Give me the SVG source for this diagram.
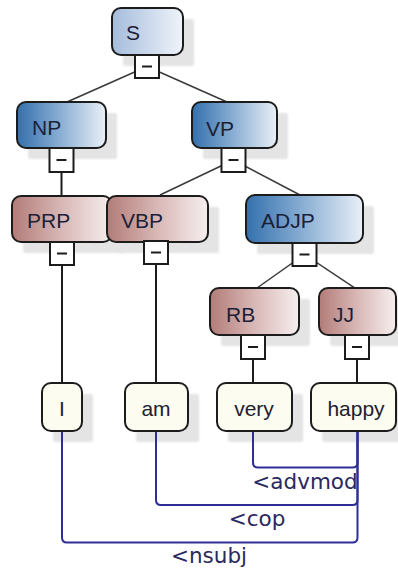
<svg xmlns="http://www.w3.org/2000/svg" width="398" height="568" viewBox="0 0 398 568">
  <defs>
    <linearGradient id="gPhrase" x1="0" y1="0" x2="1" y2="0">
      <stop offset="0" stop-color="#3470ad"/>
      <stop offset="0.5" stop-color="#8cb0d4"/>
      <stop offset="1" stop-color="#eaf0f7"/>
    </linearGradient>
    <linearGradient id="gRoot" x1="0" y1="0" x2="1" y2="0">
      <stop offset="0" stop-color="#a4bcdb"/>
      <stop offset="1" stop-color="#f0f4fa"/>
    </linearGradient>
    <linearGradient id="gTag" x1="0" y1="0" x2="1" y2="0">
      <stop offset="0" stop-color="#b27c78"/>
      <stop offset="0.5" stop-color="#d8b8b6"/>
      <stop offset="1" stop-color="#f6efef"/>
    </linearGradient>
    <filter id="soft" x="-10%" y="-10%" width="120%" height="120%">
      <feGaussianBlur stdDeviation="1"/>
    </filter>
  </defs>
  <style>
    .shadow { fill: #e4e4e4; filter: url(#soft); }
    .box { stroke: #1c1c1c; stroke-width: 2; }
    .phrase { fill: url(#gPhrase); }
    .root { fill: url(#gRoot); }
    .tag { fill: url(#gTag); }
    .leaf { fill: #fcfcf0; }
    .toggle { fill: #ffffff; stroke: #1c1c1c; stroke-width: 2; }
    .minus { stroke: #1c1c1c; stroke-width: 2; }
    .label { font-family: "Liberation Sans", Arial, sans-serif; font-size: 21px; fill: #1c2038; }
    .word { font-family: "Liberation Sans", Arial, sans-serif; font-size: 21px; fill: #202030; text-anchor: middle; }
    .edge { stroke: #3a3a3a; stroke-width: 1.5; fill: none; }
    .stem { stroke: #1c1c1c; stroke-width: 2; fill: none; }
    .dep { stroke: #2e2e96; stroke-width: 2; fill: none; }
    .rel { font-family: "DejaVu Sans", Verdana, sans-serif; font-size: 21.5px; fill: #2a2860; text-anchor: middle; }
  </style>

  <!-- drop shadows -->
  <g id="shadows">
    <rect class="shadow" x="123" y="19" width="71" height="47" rx="2"/>
    <rect class="shadow" x="28" y="113" width="89" height="46" rx="2"/>
    <rect class="shadow" x="203" y="113" width="85" height="46" rx="2"/>
    <rect class="shadow" x="23" y="207" width="100" height="46" rx="2"/>
    <rect class="shadow" x="118" y="207" width="101" height="46" rx="2"/>
    <rect class="shadow" x="257" y="206" width="117" height="48" rx="2"/>
    <rect class="shadow" x="221" y="299" width="89" height="47" rx="2"/>
    <rect class="shadow" x="330" y="299" width="78" height="47" rx="2"/>
    <rect class="shadow" x="53" y="394" width="40" height="48" rx="2"/>
    <rect class="shadow" x="136" y="394" width="63" height="48" rx="2"/>
    <rect class="shadow" x="228" y="394" width="75" height="48" rx="2"/>
    <rect class="shadow" x="322" y="394" width="85" height="48" rx="2"/>
  </g>

  <!-- tree connectors and dependency arcs -->
  <g id="connectors">
    <line class="edge" x1="147" y1="66.5" x2="67" y2="102"/>
    <line class="edge" x1="147" y1="66.5" x2="227" y2="102"/>
    <line class="stem" x1="61.5" y1="160" x2="61.5" y2="196"/>
    <line class="edge" x1="233.5" y1="160" x2="160" y2="195"/>
    <line class="edge" x1="233.5" y1="160" x2="300" y2="195"/>
    <line class="edge" x1="304.5" y1="254.5" x2="257" y2="288"/>
    <line class="edge" x1="304.5" y1="254.5" x2="355" y2="288"/>
    <line class="stem" x1="62" y1="254" x2="62" y2="383"/>
    <line class="stem" x1="156" y1="252" x2="156" y2="383"/>
    <line class="stem" x1="253" y1="348" x2="253" y2="383"/>
    <line class="stem" x1="357" y1="348" x2="357" y2="383"/>

    <path class="dep" d="M253 431 V462.5 Q253 467.5 258 467.5 H352.5 Q357.5 467.5 357.5 462.5 V431"/>
    <path class="dep" d="M156 431 V500 Q156 505 161 505 H352.5 Q357.5 505 357.5 500 V431"/>
    <path class="dep" d="M62 431 V537.5 Q62 542.5 67 542.5 H352.5 Q357.5 542.5 357.5 537.5 V431"/>
    <text class="rel" x="305" y="489">&lt;advmod</text>
    <text class="rel" x="257" y="526">&lt;cop</text>
    <text class="rel" x="209" y="563">&lt;nsubj</text>
  </g>

  <g id="node-S">
    <rect class="box root" x="112" y="8" width="71" height="47" rx="9"/>
    <text class="label" x="126" y="40">S</text>
    <rect class="toggle" x="135" y="55" width="24" height="23"/>
    <line class="minus" x1="142" y1="66.5" x2="152" y2="66.5"/>
  </g>

  <g id="node-NP">
    <rect class="box phrase" x="17" y="102" width="89" height="46" rx="9"/>
    <text class="label" x="32" y="135">NP</text>
    <rect class="toggle" x="49.5" y="148" width="24" height="24"/>
    <line class="minus" x1="56.5" y1="160" x2="66.5" y2="160"/>
  </g>

  <g id="node-VP">
    <rect class="box phrase" x="192" y="102" width="85" height="46" rx="9"/>
    <text class="label" x="206" y="136">VP</text>
    <rect class="toggle" x="221.5" y="148" width="24" height="24"/>
    <line class="minus" x1="228.5" y1="160" x2="238.5" y2="160"/>
  </g>

  <g id="node-PRP">
    <rect class="box tag" x="12" y="196" width="100" height="46" rx="9"/>
    <text class="label" x="27" y="228">PRP</text>
    <rect class="toggle" x="50" y="242" width="24" height="23"/>
    <line class="minus" x1="57" y1="253.5" x2="67" y2="253.5"/>
  </g>

  <g id="node-VBP">
    <rect class="box tag" x="107" y="196" width="101" height="46" rx="9"/>
    <text class="label" x="121" y="228">VBP</text>
    <rect class="toggle" x="144" y="241" width="24" height="23"/>
    <line class="minus" x1="151" y1="252.5" x2="161" y2="252.5"/>
  </g>

  <g id="node-ADJP">
    <rect class="box phrase" x="246" y="195" width="117" height="48" rx="9"/>
    <text class="label" x="261" y="228">ADJP</text>
    <rect class="toggle" x="292.5" y="243" width="24" height="23"/>
    <line class="minus" x1="299.5" y1="254.5" x2="309.5" y2="254.5"/>
  </g>

  <g id="node-RB">
    <rect class="box tag" x="210" y="288" width="89" height="47" rx="9"/>
    <text class="label" x="226" y="322">RB</text>
    <rect class="toggle" x="241" y="335" width="24" height="24"/>
    <line class="minus" x1="248" y1="347" x2="258" y2="347"/>
  </g>

  <g id="node-JJ">
    <rect class="box tag" x="319" y="288" width="77" height="47" rx="9"/>
    <text class="label" x="333" y="322">JJ</text>
    <rect class="toggle" x="345" y="335" width="24" height="24"/>
    <line class="minus" x1="352" y1="347" x2="362" y2="347"/>
  </g>

  <g id="leaf-I">
    <rect class="box leaf" x="42" y="383" width="40" height="48" rx="9"/>
    <text class="word" x="62" y="416">I</text>
  </g>

  <g id="leaf-am">
    <rect class="box leaf" x="125" y="383" width="63" height="48" rx="9"/>
    <text class="word" x="156" y="416">am</text>
  </g>

  <g id="leaf-very">
    <rect class="box leaf" x="217" y="383" width="75" height="48" rx="9"/>
    <text class="word" x="254" y="416">very</text>
  </g>

  <g id="leaf-happy">
    <rect class="box leaf" x="311" y="383" width="85" height="48" rx="9"/>
    <text class="word" x="356" y="416">happy</text>
  </g>
</svg>
